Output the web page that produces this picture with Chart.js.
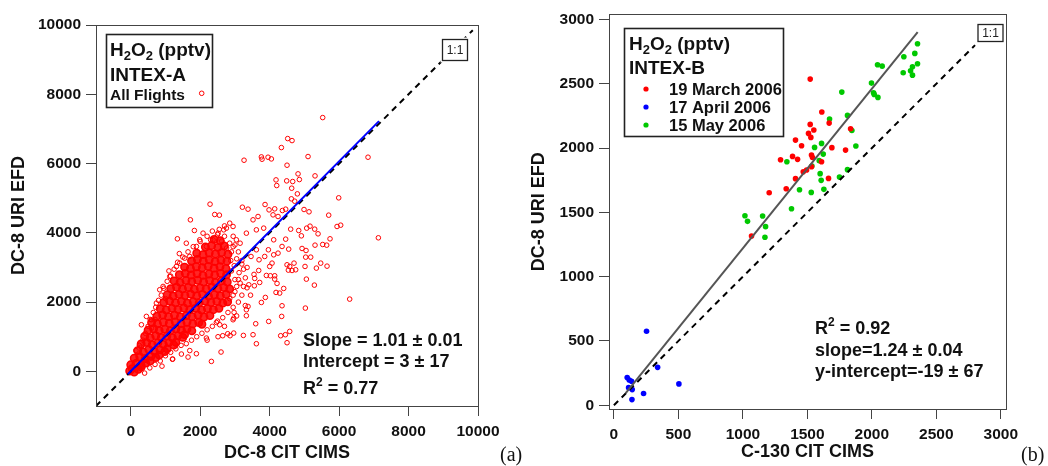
<!DOCTYPE html>
<html>
<head>
<meta charset="utf-8">
<script src="https://cdn.jsdelivr.net/npm/chart.js@4.4.1/dist/chart.umd.min.js"></script>
<style>
  body { margin: 0; background: #fff; width: 1048px; height: 466px; overflow: hidden; }
  canvas { position: absolute; top: 0; }
  #chartA { left: 0; }
  #chartB { left: 524px; }
</style>
</head>
<body>
<canvas id="chartA" width="524" height="466"></canvas>
<canvas id="chartB" width="524" height="466"></canvas>
<script>
// ---- panel (a): INTEX-A, all flights, DC-8 CIT CIMS vs DC-8 URI EFD (pptv)
// dense part of the cloud
const flightsCore = [
  [-30,10],[100,-20],[220,60],[300,120],[40,80],
  [0,190],[150,230],[300,170],[430,240],[560,300],
  [100,380],[260,420],[420,370],[580,430],[720,400],[820,470],
  [200,600],[360,560],[520,630],[680,580],[840,620],[980,570],[1050,650],
  [300,790],[460,830],[620,770],[780,820],[940,780],[1100,830],[1240,760],[1300,840],
  [400,1010],[560,970],[720,1030],[880,980],[1040,1020],[1200,970],[1360,1030],[1500,980],[1550,1060],
  [500,1190],[660,1230],[820,1180],[980,1220],[1140,1170],[1300,1230],[1460,1190],[1620,1220],[1760,1170],
  [600,1410],[770,1370],[940,1420],[1110,1390],[1280,1430],[1450,1380],[1620,1420],[1790,1370],[1960,1410],[2050,1360],
  [750,1590],[920,1630],[1090,1580],[1260,1620],[1430,1570],[1600,1610],[1770,1580],[1940,1630],[2110,1570],[2280,1610],
  [850,1810],[1020,1770],[1190,1820],[1360,1790],[1530,1830],[1700,1780],[1870,1820],[2040,1770],[2210,1810],[2380,1780],[2540,1820],
  [950,1990],[1120,2030],[1290,1980],[1460,2020],[1630,1970],[1800,2010],[1970,1980],[2140,2030],[2310,1990],[2480,2020],[2650,1970],[2790,2010],
  [1050,2210],[1220,2170],[1390,2220],[1560,2190],[1730,2230],[1900,2180],[2070,2220],[2240,2170],[2410,2210],[2580,2180],[2750,2220],
  [1150,2390],[1320,2430],[1490,2380],[1660,2420],[1830,2370],[2000,2410],[2170,2380],[2340,2430],[2510,2390],[2680,2420],[2850,2380],
  [1250,2610],[1420,2570],[1590,2620],[1760,2590],[1930,2630],[2100,2580],[2270,2620],[2440,2570],[2610,2610],[2780,2580],
  [1400,2790],[1570,2830],[1740,2780],[1910,2820],[2080,2770],[2250,2810],[2420,2780],[2590,2830],[2760,2790],
  [1550,3010],[1720,2970],[1890,3020],[2060,2990],[2230,3030],[2400,2980],[2570,3020],[2740,2970],
  [1750,3190],[1920,3230],[2090,3180],[2260,3220],[2430,3170],[2600,3210],[2770,3180],
  [1900,3410],[2080,3370],[2260,3420],[2440,3390],[2620,3430],[2800,3380],
  [2150,3590],[2330,3630],[2510,3580],[2690,3620],
  [2400,3810],[2580,3770]
];
// scattered points around it
const flightsSpread = [
  [5528,7327],[4520,6721],[4645,6663],[4338,6461],[3263,6096],[3762,6192],[3781,6125],[3954,6183],
  [4050,6134],[5106,6202],[6833,6183],[4501,5952],[5307,5644],[4818,5702],[4856,5538],[4184,5528],
  [4204,5365],[4491,5500],[4664,5481],[4635,5288],[4798,5125],[4626,4981],[5989,5010],[4722,4913],
  [4990,4673],[5134,4606],[2284,4827],[2419,4529],[2553,4510],[1718,4375],[1833,4067],[1344,3827],
  [3215,4740],[3378,4683],[3868,4817],[4146,4692],[5701,4510],[5941,4183],[6046,4221],[7131,3856],
  [5067,4135],[5163,4192],[5298,4106],[4606,4106],[4837,4067],[4914,3913],[5394,3971],[5739,3827],
  [5307,3644],[5528,3663],[5643,3644],[4933,3548],[5048,3490],[5183,3298],[5038,3298],[5471,3125],
  [5653,3038],[5346,2981],[5019,3029],[4501,3077],[4702,3125],[4578,3029],[4539,2923],[4750,2933],
  [4645,2913],[5058,2663],[5288,2490],[6305,2086],[5029,1827],[4405,2394],[4184,2279],[4290,2260],
  [4357,1894],[4347,1587],[4578,1154],[4453,1058],[4318,1029],[4501,827],[3618,798],[3599,1375],
  [3522,1058],[3244,1038],[3973,1442],[3330,1606],[3330,1779],[3378,1875],[3762,1990],[3877,2135],
  [2601,558],[2323,288],[1891,510],[1651,413],[1459,500],[1209,356],[2514,1000],[2649,1029],
  [2179,962],[2966,1106],[2976,1702],[2793,1086],[2860,1029],[2467,1413],[2563,1346],[2947,1490],
  [2966,1538],[3349,2413],[3560,2471],[3714,2567],[3906,2769],[4021,2760],[4146,2760],[4213,2538],
  [4146,2663],[3570,2683],[3685,2913],[4002,3029],[4069,3125],[4117,3365],[4242,3413],[4357,3606],
  [4117,3798],[4462,3817],[4549,3529],[3695,3221],[3964,3510],[3858,3317],[3464,3317],[3618,3510],
  [3330,3990],[3618,4086],[3829,4135],[3522,4375],[3666,4471],[3983,4663],[4098,4519],[4242,4471],
  [4367,4644],[4462,4683],[3042,3798],[2947,4183],[2851,4279],[2755,4135],[2678,4086],[2514,3990],
  [2371,3798],[2179,3606],[2083,3990],[1987,3798],[1891,3606],[1699,3317],[1555,3269],[1411,3125],
  [1315,3029],[1123,2740],[931,2452],[835,2356],[739,1971],[451,1587],[307,1346],[595,1490],
  [150,600],[250,750],[350,900],[420,1100],[500,1300],[560,1500],[650,1700],[720,1850],
  [800,2050],[880,2200],[950,2400],[1050,2600],[1150,2750],[1250,2950],[1350,3150],[1500,3300],
  [1650,3450],[1800,3600],[2000,3750],[2200,3900],[2350,4050],[2550,4100],[2700,4200],[1000,2100],
  [700,1500],[1100,2900],[1600,3700],[1400,3400],[600,1250],[300,700],
  [400,-50],[550,100],[700,200],[850,300],[1000,450],[1150,550],[1300,650],[1450,750],
  [1600,800],[1750,900],[1900,1000],[2050,1100],[2200,1200],[2350,1300],[2500,1450],[2650,1550],
  [2800,1700],[2950,1850],[3100,2000],[3200,2200],[3250,2450],[3300,2700],[3250,2950],[3200,3200],
  [3100,3450],[3000,3650],[2950,3900],[3150,3700],[3350,3000],[3400,2500],[1200,350],[900,150],
  [1700,600],[2200,900],[2700,1300],[3050,1600],[3300,1900],[3450,2200],[3550,2800],
  [2950,2200],[3050,2450],[3000,2650],[3120,2850],[2980,3050],[3050,3250],[2900,3450],[2850,3700],
  [2700,3900],[2500,3950],[2300,3800],[2950,3600],[3150,2550],[3200,3100],[2850,2100],[3000,2300],
  [2900,2900],[3100,2650],[2880,3200],[2760,3560],[2620,3760]
];
const fitA = [1.01, 3];            // slope, intercept
const fitRangeA = [-80, 7150];
const oneToOneA = [-1000, 9850];
const ticksA = [0, 2000, 4000, 6000, 8000, 10000];

// ---- panel (b): INTEX-B, C-130 CIT CIMS vs DC-8 URI EFD (pptv)
const march19 = [
  [1522,2536],[1612,2280],[1522,2184],[1669,2194],[1509,2114],[1527,2083],[1550,2140],[1835,2150],
  [1408,2062],[1455,2018],[1690,2003],[1796,1984],[1292,1909],[1385,1935],[1424,1912],[1532,1946],
  [1540,1927],[1610,1894],[1532,1855],[1468,1816],[1494,1829],[1408,1762],[1664,1764],[1336,1684],
  [1204,1653],[1067,1316]
];
const april17 = [
  [253,575],[103,215],[119,197],[137,187],[114,137],[142,122],[339,295],[504,166],[230,91],[140,44]
];
const may15 = [
  [2354,2811],[2333,2736],[2248,2710],[2044,2648],[2080,2637],[2243,2585],[2315,2632],[2354,2655],
  [2300,2601],[2315,2567],[1997,2505],[2013,2430],[2018,2417],[2047,2394],[1767,2435],[1811,2254],
  [1672,2225],[1845,2137],[1876,2016],[1610,2036],[1556,2005],[1623,1953],[1341,1894],[1592,1902],
  [1535,1860],[1599,1801],[1607,1749],[1749,1775],[1811,1832],[1439,1676],[1530,1655],[1628,1679],
  [1377,1528],[1016,1474],[1036,1430],[1153,1472],[1176,1389],[1171,1306]
];
const fitB = [1.24, -19];
const fitRangeB = [90, 2355];
const oneToOneB = [0, 2800];
const ticksB = [0, 500, 1000, 1500, 2000, 2500, 3000];

const FONT = '"Liberation Sans", Arial, Helvetica, sans-serif';
const AXIS = '#444';
const pts = arr => arr.map(([x, y]) => ({ x, y }));
const fitLine = (fit, range) => range.map(x => ({ x, y: fit[0] * x + fit[1] }));
const diag = range => range.map(v => ({ x: v, y: v }));

function axis(min, max, ticks, title, size, titlePad, horizontal) {
  return {
    type: 'linear',
    min, max,
    afterBuildTicks: s => { s.ticks = ticks.map(v => ({ value: v })); },
    afterFit: s => { if (horizontal) s.height = size; else s.width = size; },
    grid: { drawOnChartArea: false, tickLength: 10, color: AXIS },
    border: { color: AXIS, width: 1 },
    ticks: {
      color: '#111', autoSkip: false, maxRotation: 0,
      padding: horizontal ? 6 : 5,
      font: { family: FONT, size: 15.5, weight: 'bold' },
      callback: v => String(v)
    },
    title: {
      display: true, text: title, color: '#111',
      font: { family: FONT, size: 18, weight: 'bold' },
      padding: horizontal ? { top: 0, bottom: titlePad } : { top: titlePad, bottom: 0 }
    }
  };
}

// draw pieces of text in a row, e.g. H2O2 with subscripts
function runs(ctx, x, y, parts) {
  parts.forEach(([t, size, dy, weight]) => {
    ctx.font = `${weight || 'bold'} ${size}px ${FONT}`;
    ctx.fillText(t, x, y + (dy || 0));
    x += ctx.measureText(t).width;
  });
}

function frame(ctx, a) {
  ctx.strokeStyle = AXIS;
  ctx.lineWidth = 1;
  ctx.strokeRect(Math.round(a.left) + 0.5, Math.round(a.top) + 0.5,
    Math.round(a.right - a.left), Math.round(a.bottom - a.top));
}

function oneToOneBox(ctx, x, y, w, h) {
  ctx.fillStyle = '#fff';
  ctx.fillRect(x - 2, y - 2, w + 4, h + 4);
  ctx.strokeStyle = '#222';
  ctx.lineWidth = 1.3;
  ctx.strokeRect(x, y, w, h);
  ctx.font = `12px ${FONT}`;
  ctx.textAlign = 'center';
  ctx.fillStyle = '#222';
  ctx.fillText('1:1', x + w / 2, y + h / 2 + 4);
  ctx.textAlign = 'left';
}

const notesA = {
  id: 'notesA',
  afterDraw(chart) {
    const ctx = chart.ctx;
    ctx.save();
    frame(ctx, chart.chartArea);
    ctx.fillStyle = '#111';
    ctx.textBaseline = 'alphabetic';
    // legend box
    ctx.strokeStyle = '#222';
    ctx.lineWidth = 1.6;
    ctx.strokeRect(106.5, 34.5, 106, 73);
    runs(ctx, 110, 56, [['H', 19], ['2', 13, 4], ['O', 19], ['2', 13, 4], [' (pptv)', 19]]);
    runs(ctx, 110, 81, [['INTEX-A', 19]]);
    runs(ctx, 110, 100, [['All Flights', 15.5]]);
    ctx.strokeStyle = '#ff0000';
    ctx.lineWidth = 1;
    ctx.beginPath();
    ctx.arc(201.7, 93.3, 2.3, 0, Math.PI * 2);
    ctx.stroke();
    oneToOneBox(ctx, 442.5, 39.5, 25, 21);
    // fit statistics
    ctx.fillStyle = '#111';
    runs(ctx, 303, 346, [['Slope = 1.01 \u00b1 0.01', 18]]);
    runs(ctx, 303, 367, [['Intercept = 3 \u00b1 17', 18]]);
    runs(ctx, 303, 394, [['R', 18], ['2', 12, -8], [' = 0.77', 18]]);
    ctx.font = '20px "Liberation Serif", "Times New Roman", serif';
    ctx.fillText('(a)', 500, 461);
    ctx.restore();
  }
};

const notesB = {
  id: 'notesB',
  afterDraw(chart) {
    const ctx = chart.ctx;
    ctx.save();
    frame(ctx, chart.chartArea);
    ctx.fillStyle = '#111';
    ctx.textBaseline = 'alphabetic';
    ctx.strokeStyle = '#222';
    ctx.lineWidth = 1.6;
    ctx.strokeRect(100.5, 28.5, 159, 108);
    runs(ctx, 105, 50, [['H', 19], ['2', 13, 4], ['O', 19], ['2', 13, 4], [' (pptv)', 19]]);
    runs(ctx, 105, 74, [['INTEX-B', 19]]);
    const entries = [['19 March 2006', '#ff0000', 95], ['17 April 2006', '#0000ff', 113], ['15 May 2006', '#00c800', 131]];
    entries.forEach(([label, color, y]) => {
      ctx.fillStyle = color;
      ctx.beginPath();
      ctx.arc(122, y - 6, 2.6, 0, Math.PI * 2);
      ctx.fill();
      ctx.fillStyle = '#111';
      runs(ctx, 145, y, [[label, 16.5]]);
    });
    oneToOneBox(ctx, 454, 24.5, 25, 17);
    ctx.fillStyle = '#111';
    runs(ctx, 291, 334, [['R', 18], ['2', 12, -8], [' = 0.92', 18]]);
    runs(ctx, 291, 356, [['slope=1.24 \u00b1 0.04', 18]]);
    runs(ctx, 291, 377, [['y-intercept=-19 \u00b1 67', 18]]);
    ctx.font = '20px "Liberation Serif", "Times New Roman", serif';
    ctx.fillText('(b)', 497, 461);
    ctx.restore();
  }
};

const base = {
  responsive: false,
  animation: false,
  devicePixelRatio: 1,
  plugins: { legend: { display: false }, tooltip: { enabled: false } }
};

new Chart(document.getElementById('chartA'), {
  type: 'scatter',
  data: {
    datasets: [
      { data: fitLine(fitA, fitRangeA), showLine: true, borderColor: '#0000ff', borderWidth: 2, pointRadius: 0 },
      { data: diag(oneToOneA), showLine: true, borderColor: '#000', borderWidth: 2, borderDash: [6, 5], pointRadius: 0 },
      { data: pts(flightsCore), pointRadius: 3.7, backgroundColor: 'rgba(255,0,0,0.85)', borderColor: '#ff0000', borderWidth: 1.5 },
      { data: pts(flightsSpread), pointRadius: 2.3, backgroundColor: 'rgba(0,0,0,0)', borderColor: '#ff0000', borderWidth: 1 }
    ]
  },
  options: Object.assign({}, base, {
    layout: { padding: { left: 0, right: 46, top: 25, bottom: 0 } },
    scales: {
      x: axis(-1000, 10000, ticksA, 'DC-8 CIT CIMS', 60, 2, true),
      y: axis(-1000, 10000, ticksA, 'DC-8 URI EFD', 96, 8, false)
    }
  }),
  plugins: [notesA]
});

new Chart(document.getElementById('chartB'), {
  type: 'scatter',
  data: {
    datasets: [
      { data: fitLine(fitB, fitRangeB), showLine: true, borderColor: '#555', borderWidth: 2, pointRadius: 0 },
      { data: diag(oneToOneB), showLine: true, borderColor: '#000', borderWidth: 2, borderDash: [6, 5], pointRadius: 0 },
      { data: pts(march19), pointRadius: 2.8, backgroundColor: '#ff0000', borderWidth: 0 },
      { data: pts(april17), pointRadius: 2.8, backgroundColor: '#0000ff', borderWidth: 0 },
      { data: pts(may15), pointRadius: 2.8, backgroundColor: '#00c800', borderWidth: 0 }
    ]
  },
  options: Object.assign({}, base, {
    layout: { padding: { left: 0, right: 42, top: 14, bottom: 0 } },
    scales: {
      x: axis(-38, 3040, ticksB, 'C-130 CIT CIMS', 57, 3, true),
      y: axis(-29, 3040, ticksB, 'DC-8 URI EFD', 85, 4, false)
    }
  }),
  plugins: [notesB]
});
</script>
</body>
</html>
